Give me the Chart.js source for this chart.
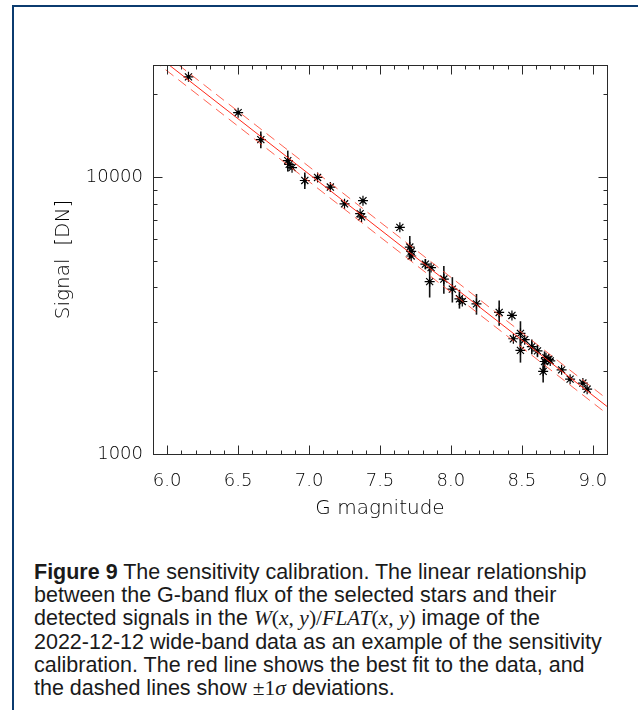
<!DOCTYPE html>
<html>
<head>
<meta charset="utf-8">
<script src="https://cdn.jsdelivr.net/npm/chart.js@4.4.1/dist/chart.umd.min.js"></script>
<style>
  html, body { margin: 0; padding: 0; background: #fff; }
  body { width: 638px; height: 710px; position: relative; overflow: hidden; }
  .frame { position: absolute; left: 12px; top: 5px; width: 700px; height: 800px;
           border-left: 2px solid #0b3b6f; border-top: 2px solid #0b3b6f; }
  .plot { position: absolute; left: 0; top: 0; width: 638px; height: 530px; }
  .caption { position: absolute; left: 34px; top: 561px; white-space: nowrap;
             font-family: 'Liberation Sans', Arial, sans-serif; font-size: 21.5px;
             line-height: 23.2px; color: #1a1a1a; }
  .caption .m { font-family: 'Liberation Serif', 'Times New Roman', serif; }
  .caption .m i { font-style: italic; }
</style>
</head>
<body>
<div class="frame"></div>
<div class="plot"><canvas id="chart"></canvas></div>
<div class="caption">
  <b>Figure 9</b> The sensitivity calibration. The linear relationship<br>
  between the G-band flux of the selected stars and their<br>
  detected signals in the <span class="m"><i>W</i>(<i>x</i>, <i>y</i>)/<i>FLAT</i>(<i>x</i>, <i>y</i>)</span> image of the<br>
  2022-12-12 wide-band data as an example of the sensitivity<br>
  calibration. The red line shows the best fit to the data, and<br>
  the dashed lines show <span class="m">&plusmn;1<i>&sigma;</i></span> deviations.
</div>
<script>
// measured stars: G magnitude, signal [DN], 1-sigma error [DN] (0 = no bar drawn)
const gMag   = [6.15, 6.50, 6.66, 6.85, 6.86, 6.88, 6.97, 7.06, 7.15, 7.25, 7.38, 7.36, 7.37, 7.64,
                7.71, 7.72, 7.72, 7.82, 7.86, 7.85, 7.95, 8.01, 8.06, 8.08, 8.18, 8.34, 8.43, 8.44,
                8.49, 8.52, 8.49, 8.57, 8.61, 8.66, 8.67, 8.69, 8.65, 8.70, 8.78, 8.84, 8.93, 8.96];
const signal = [23100, 17150, 13700, 11500, 11150, 10850, 9750, 10000, 9230, 8030, 8240, 7400, 7200, 6600,
                5600, 5400, 5200, 4860, 4720, 4200, 4290, 3945, 3640, 3560, 3490, 3250, 3170, 2610,
                2730, 2590, 2370, 2445, 2360, 2160, 2230, 2200, 1990, 2170, 2015, 1865, 1805, 1715];
const sigErr = [0, 0, 950, 1000, 0, 0, 670, 0, 0, 0, 0, 0, 0, 0,
                540, 0, 0, 210, 0, 520, 490, 415, 285, 0, 300, 340, 0, 0,
                290, 0, 230, 150, 120, 190, 0, 0, 175, 0, 0, 0, 0, 0];

// best fit and +-1 sigma lines, end points at the plot edges
const fitMag    = [5.9, 9.1];
const fitSignal = [28310, 1486];
const fitUpper  = [30120, 1581];
const fitLower  = [26610, 1397];

const xTicks = [6.0, 6.5, 7.0, 7.5, 8.0, 8.5, 9.0];
const yTicks = [1000, 10000];

const toPts = (xs, ys) => xs.map((v, i) => ({ x: v, y: ys[i] }));

const errorBars = {
  id: 'errorBars',
  beforeDatasetsDraw(chart) {
    const { ctx, scales: { x, y } } = chart;
    ctx.save();
    ctx.strokeStyle = '#111';
    ctx.lineWidth = 1.6;
    gMag.forEach((m, i) => {
      if (!sigErr[i]) return;
      const px = x.getPixelForValue(m);
      ctx.beginPath();
      ctx.moveTo(px, y.getPixelForValue(signal[i] - sigErr[i]));
      ctx.lineTo(px, y.getPixelForValue(signal[i] + sigErr[i]));
      ctx.stroke();
    });
    ctx.restore();
  }
};

// IDL style box with inward ticks on all four sides
const boxTicks = {
  id: 'boxTicks',
  afterDraw(chart) {
    const { ctx, chartArea: a, scales: { x, y } } = chart;
    const L = Math.round(a.left) + 0.5, R = Math.round(a.right) + 0.5;
    const T = Math.round(a.top) + 0.5, B = Math.round(a.bottom) + 0.5;
    ctx.save();
    ctx.strokeStyle = '#2a2a2a';
    ctx.lineWidth = 1;
    ctx.strokeRect(L, T, R - L, B - T);
    ctx.beginPath();
    const step = (xTicks[1] - xTicks[0]) / 5;
    for (let v = x.min + step; v < x.max - 1e-6; v += step) {
      const major = xTicks.some(t => Math.abs(t - v) < 1e-6);
      const px = Math.round(x.getPixelForValue(v)) + 0.5;
      const len = major ? 9 : 4;
      ctx.moveTo(px, B); ctx.lineTo(px, B - len);
      ctx.moveTo(px, T); ctx.lineTo(px, T + len);
    }
    for (let d = 1000; d <= y.max; d *= 10) {
      for (let k = 1; k < 10; k++) {
        const v = d * k;
        if (v > y.max) break;
        const py = Math.round(y.getPixelForValue(v)) + 0.5;
        const len = k === 1 ? 9 : 4;
        ctx.moveTo(L, py); ctx.lineTo(L + len, py);
        ctx.moveTo(R, py); ctx.lineTo(R - len, py);
      }
    }
    ctx.stroke();
    ctx.restore();
  }
};

const tickFont = { family: "'DejaVu Sans', sans-serif", size: 18, weight: '300' };
const titleFont = { family: "'DejaVu Sans', sans-serif", size: 20, weight: '300' };

new Chart(document.getElementById('chart'), {
  type: 'scatter',
  data: {
    datasets: [
      {
        label: 'fit', data: toPts(fitMag, fitSignal), showLine: true,
        borderColor: 'rgb(255,40,25)', borderWidth: 1, pointRadius: 0, order: 0
      },
      {
        label: '+1 sigma', data: toPts(fitMag, fitUpper), showLine: true,
        borderColor: 'rgba(255,70,50,0.85)', borderWidth: 1, borderDash: [10, 6], pointRadius: 0, order: 0
      },
      {
        label: '-1 sigma', data: toPts(fitMag, fitLower), showLine: true,
        borderColor: 'rgba(255,70,50,0.85)', borderWidth: 1, borderDash: [10, 6], pointRadius: 0, order: 0
      },
      {
        label: 'stars', data: toPts(gMag, signal), pointStyle: 'star', pointRadius: 5,
        borderColor: '#000', borderWidth: 1.2, backgroundColor: '#000', order: 2
      },
      {
        label: 'centres', data: toPts(gMag, signal), pointStyle: 'circle', pointRadius: 1.8,
        borderWidth: 0, backgroundColor: '#000', order: 1
      }
    ]
  },
  options: {
    responsive: true,
    maintainAspectRatio: false,
    animation: false,
    layout: { padding: { top: 65, right: 31, left: 0, bottom: 0 } },
    plugins: { legend: { display: false }, tooltip: { enabled: false } },
    scales: {
      x: {
        type: 'linear', min: 5.9, max: 9.1,
        grid: { display: false, drawTicks: false },
        border: { display: false },
        afterBuildTicks: s => { s.ticks = xTicks.map(v => ({ value: v })); },
        afterFit: s => { s.height = 76; },
        ticks: {
          color: '#000', font: tickFont, padding: 17, maxRotation: 0, autoSkip: false,
          callback: v => Number(v).toFixed(1)
        },
        title: { display: true, text: 'G magnitude', color: '#000', font: titleFont,
                 padding: { top: 0, bottom: 9 } }
      },
      y: {
        type: 'logarithmic', min: 1000, max: 25500,
        grid: { display: false, drawTicks: false },
        border: { display: false },
        afterBuildTicks: s => { s.ticks = yTicks.map(v => ({ value: v })); },
        afterFit: s => { s.width = 153; },
        ticks: { color: '#000', font: tickFont, padding: 10, callback: v => String(v) },
        title: { display: true, text: 'Signal  [DN]', color: '#000', font: titleFont,
                 padding: { top: 52, bottom: 0 } }
      }
    }
  },
  plugins: [errorBars, boxTicks]
});
</script>
</body>
</html>
